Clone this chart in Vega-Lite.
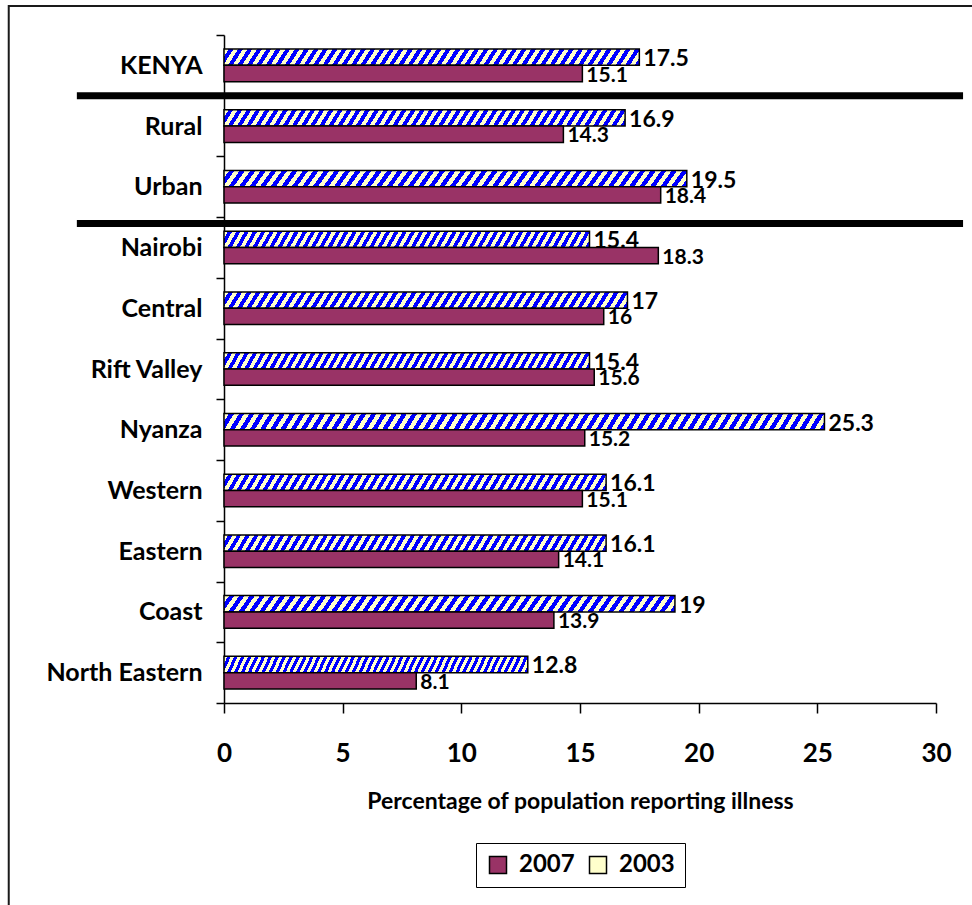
{
  "$schema": "https://vega.github.io/schema/vega-lite/v6.json",
  "autosize": "none",
  "width": 712,
  "height": 668,
  "padding": {"left": 224, "top": 35, "right": 36, "bottom": 202},
  "background": "white",
  "config": {"view": {"stroke": null}, "font": "Lato"},
  "datasets": {
    "illness": [
      {"region": "KENYA", "year": "2003", "pct": 17.5},
      {"region": "KENYA", "year": "2007", "pct": 15.1},
      {"region": "Rural", "year": "2003", "pct": 16.9},
      {"region": "Rural", "year": "2007", "pct": 14.3},
      {"region": "Urban", "year": "2003", "pct": 19.5},
      {"region": "Urban", "year": "2007", "pct": 18.4},
      {"region": "Nairobi", "year": "2003", "pct": 15.4},
      {"region": "Nairobi", "year": "2007", "pct": 18.3},
      {"region": "Central", "year": "2003", "pct": 17},
      {"region": "Central", "year": "2007", "pct": 16},
      {"region": "Rift Valley", "year": "2003", "pct": 15.4},
      {"region": "Rift Valley", "year": "2007", "pct": 15.6},
      {"region": "Nyanza", "year": "2003", "pct": 25.3},
      {"region": "Nyanza", "year": "2007", "pct": 15.2},
      {"region": "Western", "year": "2003", "pct": 16.1},
      {"region": "Western", "year": "2007", "pct": 15.1},
      {"region": "Eastern", "year": "2003", "pct": 16.1},
      {"region": "Eastern", "year": "2007", "pct": 14.1},
      {"region": "Coast", "year": "2003", "pct": 19},
      {"region": "Coast", "year": "2007", "pct": 13.9},
      {"region": "North Eastern", "year": "2003", "pct": 12.8},
      {"region": "North Eastern", "year": "2007", "pct": 8.1}
    ]
  },
  "data": {"name": "illness"},
  "resolve": {"scale": {"y": "independent"}},
  "layer": [
    {
      "data": {"values": [{}]},
      "mark": {"type": "rect", "fillOpacity": 0, "stroke": "#1a1a1a", "strokeWidth": 2},
      "encoding": {
        "x": {"datum": -9.07, "type": "quantitative"},
        "x2": {"datum": 40},
        "y": {"datum": 1.0434, "type": "quantitative", "scale": {"domain": [0, 1], "nice": false, "zero": false}, "axis": null},
        "y2": {"datum": -0.5}
      }
    },
    {
      "layer": [
        {
          "mark": {"type": "bar", "stroke": "black", "strokeWidth": 1.5},
          "encoding": {
            "y": {
              "field": "region",
              "type": "nominal",
              "scale": {
                "domain": ["KENYA", "Rural", "Urban", "Nairobi", "Central", "Rift Valley", "Nyanza", "Western", "Eastern", "Coast", "North Eastern"],
                "paddingInner": 0,
                "paddingOuter": 0
              },
              "axis": {
                "title": null,
                "tickBand": "extent",
                "tickSize": 8,
                "tickColor": "black",
                "tickWidth": 1.5,
                "domainColor": "black",
                "domainWidth": 1.5,
                "labelFontSize": 25,
                "labelFontWeight": "bold",
                "labelColor": "black",
                "labelPadding": 14,
                "labelLimit": 300,
                "grid": false
              }
            },
            "yOffset": {
              "field": "year",
              "type": "nominal",
              "sort": ["2003", "2007"],
              "scale": {"paddingInner": 0, "paddingOuter": 0.863}
            },
            "x": {
              "field": "pct",
              "type": "quantitative",
              "scale": {"domain": [0, 30], "nice": false},
              "axis": {
                "values": [0, 5, 10, 15, 20, 25, 30],
                "title": "Percentage of population reporting illness",
                "titleFontSize": 23,
                "titleFontWeight": "bold",
                "titleColor": "black",
                "titlePadding": 24,
                "tickSize": 10,
                "tickColor": "black",
                "tickWidth": 1.5,
                "domainColor": "black",
                "domainWidth": 1.5,
                "labelFontSize": 26,
                "labelFontWeight": "bold",
                "labelColor": "black",
                "labelPadding": 27,
                "labelFlush": false,
                "grid": false
              }
            },
            "fill": {
              "condition": [
                {
                  "test": "datum.year === '2003' && datum.pct > 20",
                  "value": {
                    "gradient": "linear", "x1": 0, "y1": 0, "x2": 1.0164, "y2": 0.0169,
                    "stops": [
                      {"offset":0,"color":"#ffc"},
                      {"offset":0.0083,"color":"#ffc"},{"offset":0.0083,"color":"#00f"},
                      {"offset":0.0167,"color":"#00f"},{"offset":0.0167,"color":"#ffc"},
                      {"offset":0.025,"color":"#ffc"},{"offset":0.025,"color":"#00f"},
                      {"offset":0.0333,"color":"#00f"},{"offset":0.0333,"color":"#ffc"},
                      {"offset":0.0417,"color":"#ffc"},{"offset":0.0417,"color":"#00f"},
                      {"offset":0.05,"color":"#00f"},{"offset":0.05,"color":"#ffc"},
                      {"offset":0.0583,"color":"#ffc"},{"offset":0.0583,"color":"#00f"},
                      {"offset":0.0667,"color":"#00f"},{"offset":0.0667,"color":"#ffc"},
                      {"offset":0.075,"color":"#ffc"},{"offset":0.075,"color":"#00f"},
                      {"offset":0.0833,"color":"#00f"},{"offset":0.0833,"color":"#ffc"},
                      {"offset":0.0917,"color":"#ffc"},{"offset":0.0917,"color":"#00f"},
                      {"offset":0.1,"color":"#00f"},{"offset":0.1,"color":"#ffc"},
                      {"offset":0.1083,"color":"#ffc"},{"offset":0.1083,"color":"#00f"},
                      {"offset":0.1167,"color":"#00f"},{"offset":0.1167,"color":"#ffc"},
                      {"offset":0.125,"color":"#ffc"},{"offset":0.125,"color":"#00f"},
                      {"offset":0.1333,"color":"#00f"},{"offset":0.1333,"color":"#ffc"},
                      {"offset":0.1417,"color":"#ffc"},{"offset":0.1417,"color":"#00f"},
                      {"offset":0.15,"color":"#00f"},{"offset":0.15,"color":"#ffc"},
                      {"offset":0.1583,"color":"#ffc"},{"offset":0.1583,"color":"#00f"},
                      {"offset":0.1667,"color":"#00f"},{"offset":0.1667,"color":"#ffc"},
                      {"offset":0.175,"color":"#ffc"},{"offset":0.175,"color":"#00f"},
                      {"offset":0.1833,"color":"#00f"},{"offset":0.1833,"color":"#ffc"},
                      {"offset":0.1917,"color":"#ffc"},{"offset":0.1917,"color":"#00f"},
                      {"offset":0.2,"color":"#00f"},{"offset":0.2,"color":"#ffc"},
                      {"offset":0.2083,"color":"#ffc"},{"offset":0.2083,"color":"#00f"},
                      {"offset":0.2167,"color":"#00f"},{"offset":0.2167,"color":"#ffc"},
                      {"offset":0.225,"color":"#ffc"},{"offset":0.225,"color":"#00f"},
                      {"offset":0.2333,"color":"#00f"},{"offset":0.2333,"color":"#ffc"},
                      {"offset":0.2417,"color":"#ffc"},{"offset":0.2417,"color":"#00f"},
                      {"offset":0.25,"color":"#00f"},{"offset":0.25,"color":"#ffc"},
                      {"offset":0.2583,"color":"#ffc"},{"offset":0.2583,"color":"#00f"},
                      {"offset":0.2667,"color":"#00f"},{"offset":0.2667,"color":"#ffc"},
                      {"offset":0.275,"color":"#ffc"},{"offset":0.275,"color":"#00f"},
                      {"offset":0.2833,"color":"#00f"},{"offset":0.2833,"color":"#ffc"},
                      {"offset":0.2917,"color":"#ffc"},{"offset":0.2917,"color":"#00f"},
                      {"offset":0.3,"color":"#00f"},{"offset":0.3,"color":"#ffc"},
                      {"offset":0.3083,"color":"#ffc"},{"offset":0.3083,"color":"#00f"},
                      {"offset":0.3167,"color":"#00f"},{"offset":0.3167,"color":"#ffc"},
                      {"offset":0.325,"color":"#ffc"},{"offset":0.325,"color":"#00f"},
                      {"offset":0.3333,"color":"#00f"},{"offset":0.3333,"color":"#ffc"},
                      {"offset":0.3417,"color":"#ffc"},{"offset":0.3417,"color":"#00f"},
                      {"offset":0.35,"color":"#00f"},{"offset":0.35,"color":"#ffc"},
                      {"offset":0.3583,"color":"#ffc"},{"offset":0.3583,"color":"#00f"},
                      {"offset":0.3667,"color":"#00f"},{"offset":0.3667,"color":"#ffc"},
                      {"offset":0.375,"color":"#ffc"},{"offset":0.375,"color":"#00f"},
                      {"offset":0.3833,"color":"#00f"},{"offset":0.3833,"color":"#ffc"},
                      {"offset":0.3917,"color":"#ffc"},{"offset":0.3917,"color":"#00f"},
                      {"offset":0.4,"color":"#00f"},{"offset":0.4,"color":"#ffc"},
                      {"offset":0.4083,"color":"#ffc"},{"offset":0.4083,"color":"#00f"},
                      {"offset":0.4167,"color":"#00f"},{"offset":0.4167,"color":"#ffc"},
                      {"offset":0.425,"color":"#ffc"},{"offset":0.425,"color":"#00f"},
                      {"offset":0.4333,"color":"#00f"},{"offset":0.4333,"color":"#ffc"},
                      {"offset":0.4417,"color":"#ffc"},{"offset":0.4417,"color":"#00f"},
                      {"offset":0.45,"color":"#00f"},{"offset":0.45,"color":"#ffc"},
                      {"offset":0.4583,"color":"#ffc"},{"offset":0.4583,"color":"#00f"},
                      {"offset":0.4667,"color":"#00f"},{"offset":0.4667,"color":"#ffc"},
                      {"offset":0.475,"color":"#ffc"},{"offset":0.475,"color":"#00f"},
                      {"offset":0.4833,"color":"#00f"},{"offset":0.4833,"color":"#ffc"},
                      {"offset":0.4917,"color":"#ffc"},{"offset":0.4917,"color":"#00f"},
                      {"offset":0.5,"color":"#00f"},{"offset":0.5,"color":"#ffc"},
                      {"offset":0.5083,"color":"#ffc"},{"offset":0.5083,"color":"#00f"},
                      {"offset":0.5167,"color":"#00f"},{"offset":0.5167,"color":"#ffc"},
                      {"offset":0.525,"color":"#ffc"},{"offset":0.525,"color":"#00f"},
                      {"offset":0.5333,"color":"#00f"},{"offset":0.5333,"color":"#ffc"},
                      {"offset":0.5417,"color":"#ffc"},{"offset":0.5417,"color":"#00f"},
                      {"offset":0.55,"color":"#00f"},{"offset":0.55,"color":"#ffc"},
                      {"offset":0.5583,"color":"#ffc"},{"offset":0.5583,"color":"#00f"},
                      {"offset":0.5667,"color":"#00f"},{"offset":0.5667,"color":"#ffc"},
                      {"offset":0.575,"color":"#ffc"},{"offset":0.575,"color":"#00f"},
                      {"offset":0.5833,"color":"#00f"},{"offset":0.5833,"color":"#ffc"},
                      {"offset":0.5917,"color":"#ffc"},{"offset":0.5917,"color":"#00f"},
                      {"offset":0.6,"color":"#00f"},{"offset":0.6,"color":"#ffc"},
                      {"offset":0.6083,"color":"#ffc"},{"offset":0.6083,"color":"#00f"},
                      {"offset":0.6167,"color":"#00f"},{"offset":0.6167,"color":"#ffc"},
                      {"offset":0.625,"color":"#ffc"},{"offset":0.625,"color":"#00f"},
                      {"offset":0.6333,"color":"#00f"},{"offset":0.6333,"color":"#ffc"},
                      {"offset":0.6417,"color":"#ffc"},{"offset":0.6417,"color":"#00f"},
                      {"offset":0.65,"color":"#00f"},{"offset":0.65,"color":"#ffc"},
                      {"offset":0.6583,"color":"#ffc"},{"offset":0.6583,"color":"#00f"},
                      {"offset":0.6667,"color":"#00f"},{"offset":0.6667,"color":"#ffc"},
                      {"offset":0.675,"color":"#ffc"},{"offset":0.675,"color":"#00f"},
                      {"offset":0.6833,"color":"#00f"},{"offset":0.6833,"color":"#ffc"},
                      {"offset":0.6917,"color":"#ffc"},{"offset":0.6917,"color":"#00f"},
                      {"offset":0.7,"color":"#00f"},{"offset":0.7,"color":"#ffc"},
                      {"offset":0.7083,"color":"#ffc"},{"offset":0.7083,"color":"#00f"},
                      {"offset":0.7167,"color":"#00f"},{"offset":0.7167,"color":"#ffc"},
                      {"offset":0.725,"color":"#ffc"},{"offset":0.725,"color":"#00f"},
                      {"offset":0.7333,"color":"#00f"},{"offset":0.7333,"color":"#ffc"},
                      {"offset":0.7417,"color":"#ffc"},{"offset":0.7417,"color":"#00f"},
                      {"offset":0.75,"color":"#00f"},{"offset":0.75,"color":"#ffc"},
                      {"offset":0.7583,"color":"#ffc"},{"offset":0.7583,"color":"#00f"},
                      {"offset":0.7667,"color":"#00f"},{"offset":0.7667,"color":"#ffc"},
                      {"offset":0.775,"color":"#ffc"},{"offset":0.775,"color":"#00f"},
                      {"offset":0.7833,"color":"#00f"},{"offset":0.7833,"color":"#ffc"},
                      {"offset":0.7917,"color":"#ffc"},{"offset":0.7917,"color":"#00f"},
                      {"offset":0.8,"color":"#00f"},{"offset":0.8,"color":"#ffc"},
                      {"offset":0.8083,"color":"#ffc"},{"offset":0.8083,"color":"#00f"},
                      {"offset":0.8167,"color":"#00f"},{"offset":0.8167,"color":"#ffc"},
                      {"offset":0.825,"color":"#ffc"},{"offset":0.825,"color":"#00f"},
                      {"offset":0.8333,"color":"#00f"},{"offset":0.8333,"color":"#ffc"},
                      {"offset":0.8417,"color":"#ffc"},{"offset":0.8417,"color":"#00f"},
                      {"offset":0.85,"color":"#00f"},{"offset":0.85,"color":"#ffc"},
                      {"offset":0.8583,"color":"#ffc"},{"offset":0.8583,"color":"#00f"},
                      {"offset":0.8667,"color":"#00f"},{"offset":0.8667,"color":"#ffc"},
                      {"offset":0.875,"color":"#ffc"},{"offset":0.875,"color":"#00f"},
                      {"offset":0.8833,"color":"#00f"},{"offset":0.8833,"color":"#ffc"},
                      {"offset":0.8917,"color":"#ffc"},{"offset":0.8917,"color":"#00f"},
                      {"offset":0.9,"color":"#00f"},{"offset":0.9,"color":"#ffc"},
                      {"offset":0.9083,"color":"#ffc"},{"offset":0.9083,"color":"#00f"},
                      {"offset":0.9167,"color":"#00f"},{"offset":0.9167,"color":"#ffc"},
                      {"offset":0.925,"color":"#ffc"},{"offset":0.925,"color":"#00f"},
                      {"offset":0.9333,"color":"#00f"},{"offset":0.9333,"color":"#ffc"},
                      {"offset":0.9417,"color":"#ffc"},{"offset":0.9417,"color":"#00f"},
                      {"offset":0.95,"color":"#00f"},{"offset":0.95,"color":"#ffc"},
                      {"offset":0.9583,"color":"#ffc"},{"offset":0.9583,"color":"#00f"},
                      {"offset":0.9667,"color":"#00f"},{"offset":0.9667,"color":"#ffc"},
                      {"offset":0.975,"color":"#ffc"},{"offset":0.975,"color":"#00f"},
                      {"offset":0.9833,"color":"#00f"},{"offset":0.9833,"color":"#ffc"},
                      {"offset":0.9917,"color":"#ffc"},{"offset":0.9917,"color":"#00f"},
                      {"offset":1,"color":"#00f"}
                    ]
                  }
                },
                {
                  "test": "datum.year === '2003'",
                  "value": {
                    "gradient": "linear", "x1": 0, "y1": 0, "x2": 1.024, "y2": 0.0256,
                    "stops": [
                      {"offset":0,"color":"#ffc"},
                      {"offset":0.0111,"color":"#ffc"},{"offset":0.0111,"color":"#00f"},
                      {"offset":0.0222,"color":"#00f"},{"offset":0.0222,"color":"#ffc"},
                      {"offset":0.0333,"color":"#ffc"},{"offset":0.0333,"color":"#00f"},
                      {"offset":0.0444,"color":"#00f"},{"offset":0.0444,"color":"#ffc"},
                      {"offset":0.0556,"color":"#ffc"},{"offset":0.0556,"color":"#00f"},
                      {"offset":0.0667,"color":"#00f"},{"offset":0.0667,"color":"#ffc"},
                      {"offset":0.0778,"color":"#ffc"},{"offset":0.0778,"color":"#00f"},
                      {"offset":0.0889,"color":"#00f"},{"offset":0.0889,"color":"#ffc"},
                      {"offset":0.1,"color":"#ffc"},{"offset":0.1,"color":"#00f"},
                      {"offset":0.1111,"color":"#00f"},{"offset":0.1111,"color":"#ffc"},
                      {"offset":0.1222,"color":"#ffc"},{"offset":0.1222,"color":"#00f"},
                      {"offset":0.1333,"color":"#00f"},{"offset":0.1333,"color":"#ffc"},
                      {"offset":0.1444,"color":"#ffc"},{"offset":0.1444,"color":"#00f"},
                      {"offset":0.1556,"color":"#00f"},{"offset":0.1556,"color":"#ffc"},
                      {"offset":0.1667,"color":"#ffc"},{"offset":0.1667,"color":"#00f"},
                      {"offset":0.1778,"color":"#00f"},{"offset":0.1778,"color":"#ffc"},
                      {"offset":0.1889,"color":"#ffc"},{"offset":0.1889,"color":"#00f"},
                      {"offset":0.2,"color":"#00f"},{"offset":0.2,"color":"#ffc"},
                      {"offset":0.2111,"color":"#ffc"},{"offset":0.2111,"color":"#00f"},
                      {"offset":0.2222,"color":"#00f"},{"offset":0.2222,"color":"#ffc"},
                      {"offset":0.2333,"color":"#ffc"},{"offset":0.2333,"color":"#00f"},
                      {"offset":0.2444,"color":"#00f"},{"offset":0.2444,"color":"#ffc"},
                      {"offset":0.2556,"color":"#ffc"},{"offset":0.2556,"color":"#00f"},
                      {"offset":0.2667,"color":"#00f"},{"offset":0.2667,"color":"#ffc"},
                      {"offset":0.2778,"color":"#ffc"},{"offset":0.2778,"color":"#00f"},
                      {"offset":0.2889,"color":"#00f"},{"offset":0.2889,"color":"#ffc"},
                      {"offset":0.3,"color":"#ffc"},{"offset":0.3,"color":"#00f"},
                      {"offset":0.3111,"color":"#00f"},{"offset":0.3111,"color":"#ffc"},
                      {"offset":0.3222,"color":"#ffc"},{"offset":0.3222,"color":"#00f"},
                      {"offset":0.3333,"color":"#00f"},{"offset":0.3333,"color":"#ffc"},
                      {"offset":0.3444,"color":"#ffc"},{"offset":0.3444,"color":"#00f"},
                      {"offset":0.3556,"color":"#00f"},{"offset":0.3556,"color":"#ffc"},
                      {"offset":0.3667,"color":"#ffc"},{"offset":0.3667,"color":"#00f"},
                      {"offset":0.3778,"color":"#00f"},{"offset":0.3778,"color":"#ffc"},
                      {"offset":0.3889,"color":"#ffc"},{"offset":0.3889,"color":"#00f"},
                      {"offset":0.4,"color":"#00f"},{"offset":0.4,"color":"#ffc"},
                      {"offset":0.4111,"color":"#ffc"},{"offset":0.4111,"color":"#00f"},
                      {"offset":0.4222,"color":"#00f"},{"offset":0.4222,"color":"#ffc"},
                      {"offset":0.4333,"color":"#ffc"},{"offset":0.4333,"color":"#00f"},
                      {"offset":0.4444,"color":"#00f"},{"offset":0.4444,"color":"#ffc"},
                      {"offset":0.4556,"color":"#ffc"},{"offset":0.4556,"color":"#00f"},
                      {"offset":0.4667,"color":"#00f"},{"offset":0.4667,"color":"#ffc"},
                      {"offset":0.4778,"color":"#ffc"},{"offset":0.4778,"color":"#00f"},
                      {"offset":0.4889,"color":"#00f"},{"offset":0.4889,"color":"#ffc"},
                      {"offset":0.5,"color":"#ffc"},{"offset":0.5,"color":"#00f"},
                      {"offset":0.5111,"color":"#00f"},{"offset":0.5111,"color":"#ffc"},
                      {"offset":0.5222,"color":"#ffc"},{"offset":0.5222,"color":"#00f"},
                      {"offset":0.5333,"color":"#00f"},{"offset":0.5333,"color":"#ffc"},
                      {"offset":0.5444,"color":"#ffc"},{"offset":0.5444,"color":"#00f"},
                      {"offset":0.5556,"color":"#00f"},{"offset":0.5556,"color":"#ffc"},
                      {"offset":0.5667,"color":"#ffc"},{"offset":0.5667,"color":"#00f"},
                      {"offset":0.5778,"color":"#00f"},{"offset":0.5778,"color":"#ffc"},
                      {"offset":0.5889,"color":"#ffc"},{"offset":0.5889,"color":"#00f"},
                      {"offset":0.6,"color":"#00f"},{"offset":0.6,"color":"#ffc"},
                      {"offset":0.6111,"color":"#ffc"},{"offset":0.6111,"color":"#00f"},
                      {"offset":0.6222,"color":"#00f"},{"offset":0.6222,"color":"#ffc"},
                      {"offset":0.6333,"color":"#ffc"},{"offset":0.6333,"color":"#00f"},
                      {"offset":0.6444,"color":"#00f"},{"offset":0.6444,"color":"#ffc"},
                      {"offset":0.6556,"color":"#ffc"},{"offset":0.6556,"color":"#00f"},
                      {"offset":0.6667,"color":"#00f"},{"offset":0.6667,"color":"#ffc"},
                      {"offset":0.6778,"color":"#ffc"},{"offset":0.6778,"color":"#00f"},
                      {"offset":0.6889,"color":"#00f"},{"offset":0.6889,"color":"#ffc"},
                      {"offset":0.7,"color":"#ffc"},{"offset":0.7,"color":"#00f"},
                      {"offset":0.7111,"color":"#00f"},{"offset":0.7111,"color":"#ffc"},
                      {"offset":0.7222,"color":"#ffc"},{"offset":0.7222,"color":"#00f"},
                      {"offset":0.7333,"color":"#00f"},{"offset":0.7333,"color":"#ffc"},
                      {"offset":0.7444,"color":"#ffc"},{"offset":0.7444,"color":"#00f"},
                      {"offset":0.7556,"color":"#00f"},{"offset":0.7556,"color":"#ffc"},
                      {"offset":0.7667,"color":"#ffc"},{"offset":0.7667,"color":"#00f"},
                      {"offset":0.7778,"color":"#00f"},{"offset":0.7778,"color":"#ffc"},
                      {"offset":0.7889,"color":"#ffc"},{"offset":0.7889,"color":"#00f"},
                      {"offset":0.8,"color":"#00f"},{"offset":0.8,"color":"#ffc"},
                      {"offset":0.8111,"color":"#ffc"},{"offset":0.8111,"color":"#00f"},
                      {"offset":0.8222,"color":"#00f"},{"offset":0.8222,"color":"#ffc"},
                      {"offset":0.8333,"color":"#ffc"},{"offset":0.8333,"color":"#00f"},
                      {"offset":0.8444,"color":"#00f"},{"offset":0.8444,"color":"#ffc"},
                      {"offset":0.8556,"color":"#ffc"},{"offset":0.8556,"color":"#00f"},
                      {"offset":0.8667,"color":"#00f"},{"offset":0.8667,"color":"#ffc"},
                      {"offset":0.8778,"color":"#ffc"},{"offset":0.8778,"color":"#00f"},
                      {"offset":0.8889,"color":"#00f"},{"offset":0.8889,"color":"#ffc"},
                      {"offset":0.9,"color":"#ffc"},{"offset":0.9,"color":"#00f"},
                      {"offset":0.9111,"color":"#00f"},{"offset":0.9111,"color":"#ffc"},
                      {"offset":0.9222,"color":"#ffc"},{"offset":0.9222,"color":"#00f"},
                      {"offset":0.9333,"color":"#00f"},{"offset":0.9333,"color":"#ffc"},
                      {"offset":0.9444,"color":"#ffc"},{"offset":0.9444,"color":"#00f"},
                      {"offset":0.9556,"color":"#00f"},{"offset":0.9556,"color":"#ffc"},
                      {"offset":0.9667,"color":"#ffc"},{"offset":0.9667,"color":"#00f"},
                      {"offset":0.9778,"color":"#00f"},{"offset":0.9778,"color":"#ffc"},
                      {"offset":0.9889,"color":"#ffc"},{"offset":0.9889,"color":"#00f"},
                      {"offset":1,"color":"#00f"}
                    ]
                  }
                }
              ],
              "field": "year",
              "type": "nominal",
              "scale": {"domain": ["2007", "2003"], "range": ["#993366", "#ffffcc"]},
              "legend": {
                "orient": "none",
                "legendX": 252,
                "legendY": 808,
                "direction": "horizontal",
                "title": null,
                "symbolType": "square",
                "symbolSize": 289,
                "symbolStrokeColor": "black",
                "symbolStrokeWidth": 1.5,
                "labelFontSize": 24,
                "labelFontWeight": "bold",
                "labelColor": "black",
                "labelOffset": 9,
                "columnPadding": 11,
                "padding": 10,
                "strokeColor": "black"
              }
            }
          }
        },
        {
          "mark": {"type": "text", "align": "left", "baseline": "middle", "dx": 4, "dy": 2, "fontWeight": "bold", "color": "black"},
          "encoding": {
            "y": {"field": "region", "type": "nominal"},
            "yOffset": {"field": "year", "type": "nominal", "sort": ["2003", "2007"]},
            "x": {"field": "pct", "type": "quantitative"},
            "text": {"field": "pct", "type": "quantitative"},
            "size": {"condition": {"test": "datum.year === '2003'", "value": 23}, "value": 21}
          }
        },
        {
          "data": {"values": [{}]},
          "mark": {"type": "rule", "strokeWidth": 7, "color": "black"},
          "encoding": {
            "x": {"datum": -6.2, "type": "quantitative"},
            "x2": {"datum": 31.14},
            "y": {"datum": "Rural", "type": "nominal", "bandPosition": 0}
          }
        },
        {
          "data": {"values": [{}]},
          "mark": {"type": "rule", "strokeWidth": 7, "color": "black"},
          "encoding": {
            "x": {"datum": -6.2, "type": "quantitative"},
            "x2": {"datum": 31.14},
            "y": {"datum": "Nairobi", "type": "nominal", "bandPosition": 0.105}
          }
        }
      ]
    }
  ]
}
